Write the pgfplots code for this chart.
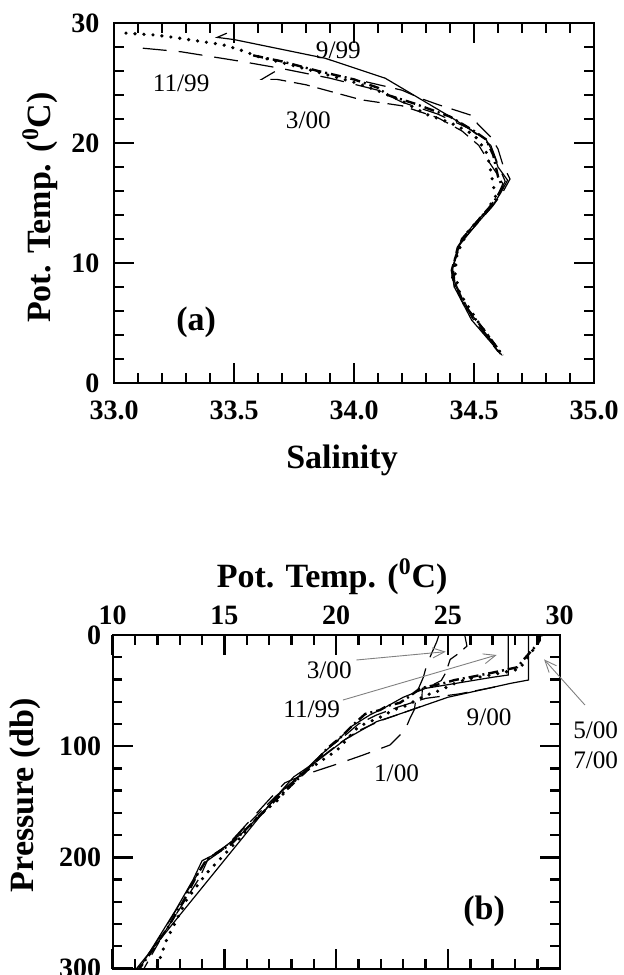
\documentclass[border=0pt]{standalone}
\usepackage{fontspec}
\setmainfont{Liberation Serif}
\usepackage{pgfplots}
\pgfplotsset{compat=1.18}
\usetikzlibrary{arrows.meta}

\pgfplotsset{
  panel/.style={
    scale only axis,
    axis line style={line width=1pt},
    tick style={line width=1.2pt,black},
    major tick length=10pt,
    minor tick length=4.8pt,
    tick align=inside,
    xtick pos=both, ytick pos=both,
    tick label style={font=\fontsize{14}{14}\selectfont\bfseries},
    /pgf/number format/assume math mode=true,
    label style={font=\fontsize{17}{17}\selectfont\bfseries},
    clip mode=individual,
    cycle list={{black,mark=none}},
    every axis plot post/.append style={mark=none},
    every axis plot/.append style={line width=0.6pt,black},
  },
  dots/.style={line width=1.8pt,line cap=round,dash pattern=on 0pt off 4.5pt},
  dashdot/.style={line width=1.2pt,dash pattern=on 5pt off 2pt on 1pt off 2pt},
  longdash/.style={dash pattern=on 12pt off 6pt},
  middash/.style={dash pattern=on 8pt off 4pt},
}
\newcommand\ann{\fontsize{12.6}{13}\selectfont}
\newcommand\pan{\fontsize{17}{17}\selectfont\bfseries}

\begin{document}
\begin{tikzpicture}

% (a) theta-S
\begin{axis}[panel,
  at={(57pt,296pt)}, anchor=south west,
  width=240pt, height=180pt,
  xmin=33, xmax=35, ymin=0, ymax=30,
  xtick={33,33.5,34,34.5,35}, ytick={0,10,20,30},
  minor x tick num=4, minor y tick num=4,
  xticklabel style={yshift=-5.3pt,/pgf/number format/.cd,fixed,fixed zerofill,precision=1},
  yticklabel style={xshift=-3.8pt},
  xlabel={Salinity},
  ylabel={Pot. Temp. (\textsuperscript{0}C)},
  xlabel style={at={(axis description cs:0.475,-0.214)},anchor=center},
  ylabel style={at={(axis description cs:-0.154,0.4875)},anchor=center},
]
\addplot[solid] coordinates {
  (33.47,29.15)(33.43,28.8)(33.50,28.62)(33.88,27.06)(34.13,25.4)(34.26,23.86)
  (34.40,22.2)(34.51,20.8)(34.55,20.3)(34.58,19.2)(34.60,18.0)(34.64,16.9)
  (34.61,15.8)(34.575,14.7)(34.50,13.0)(34.434,11.36)(34.41,9.4)(34.418,8.0)
  (34.49,5.25)(34.616,2.33)
};
\addplot[dots] coordinates {
  (33.05,29.15)(33.17,29.0)(33.25,28.8)(33.35,28.5)(33.45,28.2)(33.52,27.8)
  (33.60,27.2)(33.70,26.7)(33.85,25.9)(34.01,25.0)(34.12,24.2)(34.20,23.5)
  (34.30,22.4)(34.40,21.7)(34.50,20.7)(34.55,19.3)(34.565,18.2)(34.58,16.5)
  (34.59,15.5)(34.55,14.3)(34.47,12.5)(34.43,10.8)(34.42,9.2)(34.44,7.5)
  (34.52,5.0)(34.61,2.5)
};
\addplot[longdash] coordinates {
  (33.12,27.9)(33.28,27.6)(33.53,26.8)(33.70,26.2)(33.90,25.4)(34.10,24.4)
  (34.20,23.4)(34.35,22.4)(34.48,21.2)(34.57,19.8)(34.60,18.2)(34.63,16.8)
  (34.60,15.6)(34.55,14.3)(34.48,12.8)(34.43,11.3)(34.405,9.4)(34.42,7.8)
  (34.50,5.3)(34.62,2.4)
};
\addplot[middash] coordinates {
  (33.67,25.95)(33.615,25.3)(33.68,25.3)(33.80,24.85)(34.03,23.6)(34.20,23.1)
  (34.35,22.1)(34.45,21.0)(34.52,19.8)(34.56,18.5)(34.60,17.3)(34.62,16.6)
  (34.60,15.7)(34.56,14.5)(34.49,13.0)(34.44,11.5)(34.41,9.6)(34.42,8.2)
  (34.49,5.5)(34.60,2.6)
};
\addplot[dashdot] coordinates {
  (33.58,27.3)(33.70,26.8)(33.85,26.0)(34.00,25.3)(34.10,24.6)(34.14,24.0)
  (34.25,23.3)(34.40,22.2)(34.50,21.0)(34.55,20.3)(34.58,19.0)(34.60,17.2)
  (34.62,16.3)(34.58,15.0)(34.52,13.6)(34.45,12.0)(34.42,10.3)(34.41,8.8)
  (34.46,6.5)(34.55,4.2)(34.62,2.3)
};
\addplot[dash pattern=on 10pt off 5pt] coordinates {
  (34.05,25.1)(34.20,24.4)(34.28,23.7)(34.35,23.2)(34.49,22.3)(34.515,21.6)
  (34.57,20.5)(34.60,19.5)(34.62,18.2)(34.65,17.0)(34.62,15.9)(34.58,14.8)
  (34.51,13.2)(34.44,11.6)(34.415,9.8)(34.42,8.4)(34.48,6.0)(34.61,2.4)
};
\node[font=\ann] at (axis cs:33.935,27.75) {9/99};
\node[font=\ann] at (axis cs:33.28,24.97) {11/99};
\node[font=\ann] at (axis cs:33.81,21.92) {3/00};
\node[font=\pan] at (axis cs:33.342,5.05) {(a)};
\end{axis}

% (b) theta profile
\begin{axis}[panel,
  at={(56.35pt,3.25pt)}, anchor=south west,
  width=223.5pt, height=166.75pt,
  xmin=10, xmax=30, ymin=0, ymax=300, y dir=reverse,
  xtick={10,15,20,25,30}, ytick={0,100,200,300},
  minor x tick num=4, minor y tick num=4,
  xticklabel pos=upper,
  xticklabel style={yshift=1.8pt},
  yticklabel style={xshift=-2.3pt},
  xlabel={Pot. Temp. (\textsuperscript{0}C)},
  ylabel={Pressure (db)},
  xlabel style={at={(axis description cs:0.491,1.174)},anchor=center},
  ylabel style={at={(axis description cs:-0.195,0.52)},anchor=center},
]
\addplot[solid] coordinates {
  (28.6,0)(28.6,40.5)(27.8,43.5)(25.0,56)(22.93,70.4)(21.8,78)(20.4,94)
  (19.2,112.6)(18.1,127.6)(17.2,148)(15.1,200)(13.0,252)(11.07,300)
};
\addplot[dashdot] coordinates {
  (29.1,0)(29.1,5)(28.9,10.5)(28.45,20.7)(28.1,29)(27.2,33)(26.1,37.5)
  (25.3,40.5)(24.8,43.4)(23.75,48)(23.3,55)(22.85,61)(22.26,64)(21.96,67.5)
  (21.3,71)(20.8,80)(20.2,92)(19.6,102)(18.9,118)(18.0,135)(17.2,150)
  (16.3,168)(15.3,188)(14.2,202)(13.8,215)(13.2,238)(12.5,262)(11.8,283)(11.2,300)
};
\addplot[dots] coordinates {
  (29.2,0)(29.0,8)(28.5,22)(28.2,30.6)(27.4,34)(26.9,36)(26.1,39)(25.46,42)
  (25.0,46.5)(24.57,50.4)(24.05,54)(23.08,63.9)(22.56,67.5)(21.96,74)
  (20.99,82.5)(20.04,103.6)(19.16,115.6)(18.44,124.6)(17.38,148.6)
  (16.49,163.7)(15.6,184.7)(14.18,214.7)(13.29,238.7)(12.4,274.8)(11.96,300)
};
\addplot[solid] coordinates {
  (27.7,0)(27.7,36)(27.0,38)(25.5,43)(24.0,48)(23.0,56)(22.2,65)(21.5,72)
  (20.7,82)(20.0,96)(19.3,108)(18.6,122)(17.6,140)(16.8,158)(15.8,178)
  (14.6,197)(14.0,203)(13.6,220)(12.8,248)(12.0,274)(11.2,300)
};
\addplot[middash] coordinates {
  (25.75,0)(25.85,10)(25.45,17)(25.1,22)(24.9,34)(24.7,41)(24.2,46)(23.85,48)
  (23.83,64)(23.0,70)(22.0,77)(21.0,86)(20.1,98)(19.2,112)(18.3,128)(17.3,145)
  (16.3,165)(15.2,188)(14.3,200)(13.9,218)(13.1,243)(12.3,268)(11.4,300)
};
\addplot[longdash] coordinates {
  (24.6,0)(24.5,6)(24.27,16.5)(24.05,27)(23.9,38)(23.6,52)(23.5,67)(23.3,75)
  (23.08,85.5)(22.78,91.5)(22.4,99)(21.2,108)(20.2,115)(18.4,127)(17.7,133)
  (17.0,148)(16.0,170)(15.0,192)(14.1,205)(13.5,225)(12.7,252)(11.9,278)(11.15,300)
};
\addplot[dash pattern=on 10pt off 4pt] coordinates {
  (27.1,46.8)(25.5,53)(24.0,57)(22.8,64.6)(21.8,72)(21.0,80)(20.3,92)(19.7,101)
};
\draw[gray,line width=0.45pt,-{Straight Barb[length=6pt,width=5pt]}]
  (axis cs:20.9,22.5) -- (axis cs:24.9,15);
\draw[gray,line width=0.45pt,-{Straight Barb[length=6pt,width=5pt]}]
  (axis cs:20.3,58.5) -- (axis cs:27.18,18);
\draw[gray,line width=0.45pt,-{Straight Barb[length=6pt,width=5pt]}]
  (axis cs:31.13,63) -- (axis cs:29.3,21.9);
\node[font=\ann] at (axis cs:19.69,32.1) {3/00};
\node[font=\ann] at (axis cs:18.9,67) {11/99};
\node[font=\ann] at (axis cs:26.84,74.2) {9/00};
\node[font=\ann] at (axis cs:22.7,124.6) {1/00};
\node[font=\ann] at (axis cs:31.61,85.6) {5/00};
\node[font=\ann] at (axis cs:31.61,112.6) {7/00};
\node[font=\pan] at (axis cs:26.62,249) {(b)};
\end{axis}

\pgfresetboundingbox
\path[use as bounding box] (0,0) rectangle (311.5pt,487.5pt);
\end{tikzpicture}
\end{document}
